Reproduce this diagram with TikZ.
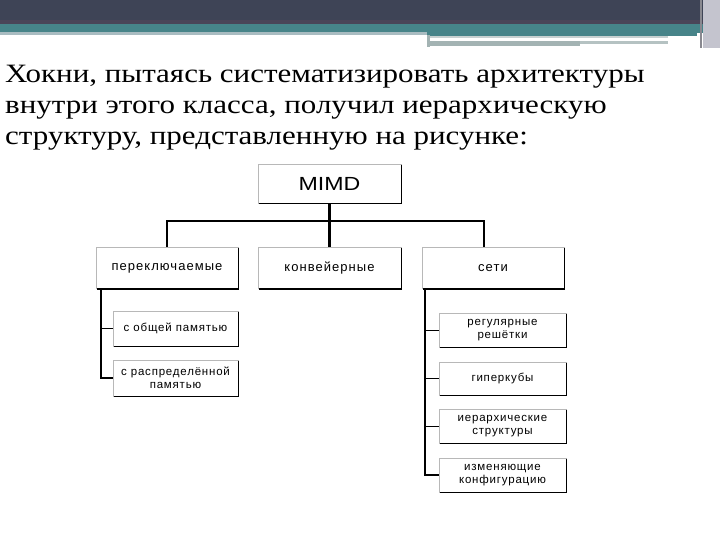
\documentclass[tikz,border=0pt]{standalone}
\usepackage{fontspec}
\setmainfont{Liberation Serif}
\setsansfont{Liberation Sans}
\newfontfamily\boxfont[LetterSpace=8]{Liberation Sans}
\newfontfamily\subfont[LetterSpace=7]{Liberation Sans}
\definecolor{hdark}{HTML}{3E4456}
\definecolor{hpurp}{HTML}{4A4558}
\definecolor{hteal}{HTML}{478489}
\definecolor{hlight}{HTML}{A9BCC1}
\definecolor{hgray}{HTML}{A3B3B3}
\definecolor{hside}{HTML}{C4C4CE}
\tikzset{
  boxst/.style={draw=black!28, fill=white, line width=0.7pt, inner sep=0pt, align=center,
    font=\boxfont\fontsize{13}{14}\selectfont},
  subst/.style={boxst, font=\subfont\fontsize{11.5}{12.5}\selectfont},
  edge/.style={draw=black, line width=1.6pt},
  conn/.style={draw=black, line width=2.6pt},
  vconn/.style={draw=black, line width=1.8pt},
  tick/.style={draw=black, line width=0.8pt},
  ttl/.style={anchor=base west, inner sep=0pt, font=\fontsize{26.5}{30}\selectfont}
}
\newcommand\shadeedge[1]{\draw[edge] ([yshift=-1pt]#1.north east) -- (#1.south east) -- ([xshift=1pt]#1.south west);}
\newcommand\wide[1]{\scalebox{1.17}[1]{#1}}
\begin{document}
\begin{tikzpicture}[x=1pt,y=-1pt]
\useasboundingbox (0,0) rectangle (720,540);
\fill[white] (0,0) rectangle (720,540);
% header
\fill[hdark] (0,0) rectangle (720,21);
\fill[hpurp] (0,20) rectangle (720,24);
\fill[hteal] (0,24) rectangle (720,33);
\fill[hlight] (0,32) rectangle (427,35.5);
\fill[hteal] (427,33) rectangle (697,36);
\fill[hgray!60] (427,36) rectangle (668,38);
\fill[hgray] (427,41) rectangle (580,46);
\fill[hgray!80] (580,41) rectangle (668,44);
\fill[hgray] (427,35) rectangle (430,47);
\fill[hside] (703,0) rectangle (720,48);
\fill[hside!70!black] (700,0) rectangle (702,48);
% title
\node[ttl] (t1) at (5,83) {\wide{Хокни, пытаясь систематизировать архитектуры}};
\node[ttl] (t2) at (5,114) {\wide{внутри этого класса, получил иерархическую}};
\node[ttl] (t3) at (5,145) {\wide{структуру, представленную на рисунке:}};
% boxes
\node[boxst, minimum width=143pt, minimum height=39pt, font=\sffamily\fontsize{19}{20}\selectfont] (mimd) at (329.5,183.5) {\scalebox{1.22}[1]{MIMD}};
\node[boxst, minimum width=142pt, minimum height=41pt] (pk) at (167,268) {переключаемые};
\node[boxst, minimum width=143pt, minimum height=41pt] (kv) at (329.5,268) {конвейерные};
\node[boxst, minimum width=142pt, minimum height=41pt] (seti) at (493,268) {сети};
\node[subst, minimum width=125pt, minimum height=35pt] (ob) at (175.5,328.5) {с общей памятью};
\node[subst, minimum width=125pt, minimum height=36pt] (rasp) at (175.5,378) {с распределённой\\памятью};
\node[subst, minimum width=127pt, minimum height=34pt] (reg) at (502.5,330) {регулярные\\решётки};
\node[subst, minimum width=127pt, minimum height=33pt] (gip) at (502.5,378.5) {гиперкубы};
\node[subst, minimum width=127pt, minimum height=34pt] (ier) at (502.5,426) {иерархические\\структуры};
\node[subst, minimum width=127pt, minimum height=34pt] (izm) at (502.5,475) {изменяющие\\конфигурацию};
\foreach \n in {mimd,pk,kv,seti,ob,rasp,reg,gip,ier,izm} {\shadeedge{\n}}
% connectors
\coordinate (busL) at (167,221);
\coordinate (busR) at (484,221);
\coordinate (lx) at (101,288);
\coordinate (rx) at (425,288);
\draw[conn] (mimd.south) -- (kv.north);
\draw[conn] (pk.north) -- (busL) -- (busR) -- (busR |- seti.north);
\draw[vconn] (lx) |- (rasp.west);
\draw[tick] (lx |- ob.west) -- (ob.west);
\draw[vconn] (rx) |- (izm.west);
\draw[tick] (rx |- reg.west) -- (reg.west);
\draw[tick] (rx |- gip.west) -- (gip.west);
\draw[tick] (rx |- ier.west) -- (ier.west);
\end{tikzpicture}
\end{document}
